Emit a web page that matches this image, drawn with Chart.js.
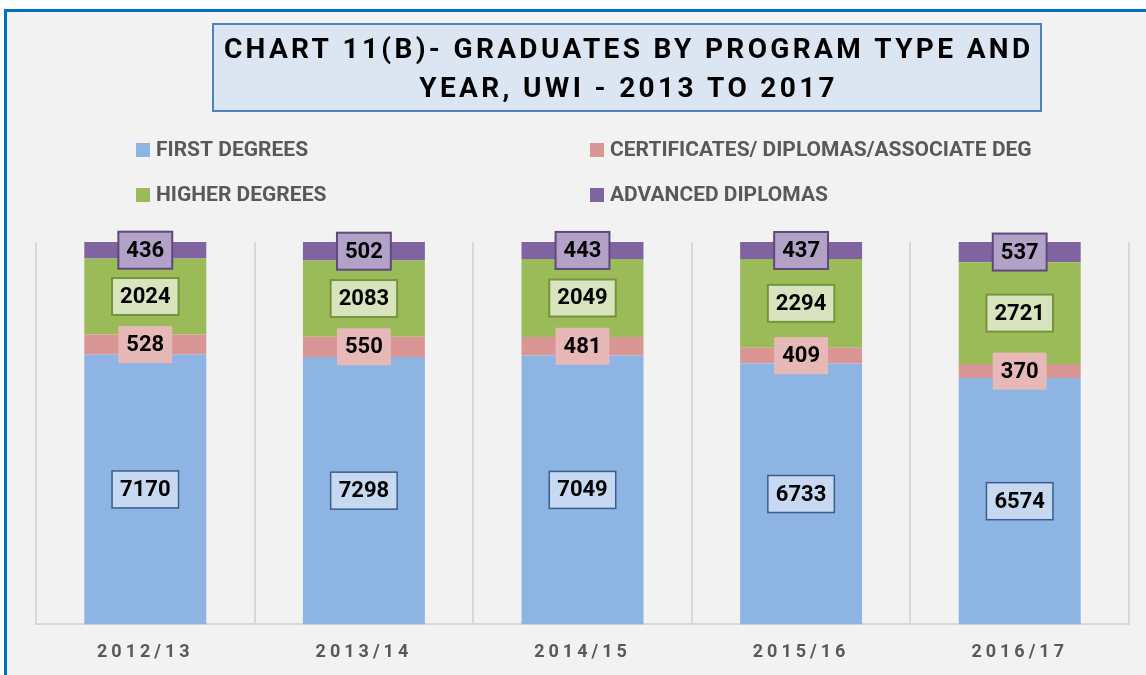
<!DOCTYPE html>
<html>
<head>
<meta charset="utf-8">
<script src="https://cdn.jsdelivr.net/npm/chart.js@4/dist/chart.umd.min.js"></script>
<style>
  html, body { margin: 0; padding: 0; background: #ffffff; overflow: hidden; }
  #frame {
    position: absolute; left: 4px; top: 9px; width: 1200px; height: 720px;
    background: #f2f2f2; border-left: 3px solid #0070c0; border-top: 3px solid #0070c0;
  }
  #chart { position: absolute; left: 0; top: 0; }
</style>
</head>
<body>
<div id="frame"></div>
<canvas id="chart" width="1146" height="675"></canvas>
<script>
// ---- data ----
const years = ["2012/13", "2013/14", "2014/15", "2015/16", "2016/17"];
const firstDegrees = [7170, 7298, 7049, 6733, 6574];
const certificates = [528, 550, 481, 409, 370];
const higherDegrees = [2024, 2083, 2049, 2294, 2721];
const advancedDiplomas = [436, 502, 443, 437, 537];
const titleLines = ["CHART 11(B)- GRADUATES BY PROGRAM TYPE AND", "YEAR, UWI - 2013 TO 2017"];

const FONT = "Roboto, 'Open Sans', sans-serif";

const totals = years.map((_, i) =>
  firstDegrees[i] + certificates[i] + higherDegrees[i] + advancedDiplomas[i]);
const pct = arr => arr.map((v, i) => v / totals[i] * 100);

const series = [
  { label: "FIRST DEGREES", raw: firstDegrees, color: "#8eb4e3",
    box: { fill: "#c6d9f1", stroke: "#3a5f8f", lw: 1.5 } },
  { label: "CERTIFICATES/ DIPLOMAS/ASSOCIATE DEG", raw: certificates, color: "#d99694",
    box: { fill: "#e6b9b8", stroke: null, lw: 0 } },
  { label: "HIGHER DEGREES", raw: higherDegrees, color: "#9bbb59",
    box: { fill: "#d7e4bd", stroke: "#77933c", lw: 2 } },
  { label: "ADVANCED DIPLOMAS", raw: advancedDiplomas, color: "#8064a2",
    box: { fill: "#b3a2c7", stroke: "#5f497a", lw: 2 } }
];

// ---- title box ----
const titlePlugin = {
  id: "titleBox",
  afterDraw(chart) {
    const ctx = chart.ctx;
    ctx.save();
    ctx.fillStyle = "#dce6f2";
    ctx.fillRect(213, 24, 828, 87);
    ctx.strokeStyle = "#4f81bd";
    ctx.lineWidth = 2;
    ctx.strokeRect(213, 24, 828, 87);
    ctx.font = "bold 28px " + FONT;
    ctx.fillStyle = "#000000";
    ctx.textAlign = "center";
    ctx.textBaseline = "middle";
    ctx.letterSpacing = "0px";
    const w = ctx.measureText(titleLines[0]).width;
    const sp = (806 - w) / (titleLines[0].length - 1);
    ctx.letterSpacing = sp.toFixed(2) + "px";
    ctx.fillText(titleLines[0], 627 + sp / 2, 51);
    ctx.fillText(titleLines[1], 627 + sp / 2, 90);
    ctx.restore();
  }
};

// ---- legend, two columns ----
const legendPlugin = {
  id: "gridLegend",
  afterDraw(chart) {
    const ctx = chart.ctx;
    const colX = [136, 590];
    const rowY = [150, 195];
    ctx.save();
    ctx.font = "bold 21px " + FONT;
    ctx.textBaseline = "middle";
    ctx.textAlign = "left";
    ctx.letterSpacing = "0px";
    chart.data.datasets.forEach((ds, i) => {
      const x = colX[i % 2], y = rowY[Math.floor(i / 2)];
      ctx.fillStyle = ds.backgroundColor;
      ctx.fillRect(x, y - 7, 14, 14);
      ctx.fillStyle = "#595959";
      ctx.fillText(ds.label, x + 20, y + 1);
    });
    ctx.restore();
  }
};

// ---- spaced tick labels ----
const spacingPlugin = {
  id: "tickSpacing",
  beforeDraw(chart) { chart.ctx.letterSpacing = "4px"; },
  beforeDatasetsDraw(chart) { chart.ctx.letterSpacing = "0px"; }
};

// ---- value boxes ----
const valuePlugin = {
  id: "valueBoxes",
  afterDatasetsDraw(chart) {
    const ctx = chart.ctx;
    ctx.save();
    ctx.letterSpacing = "0px";
    ctx.font = "bold 22px " + FONT;
    ctx.textAlign = "center";
    ctx.textBaseline = "middle";
    chart.data.datasets.forEach((ds, di) => {
      const meta = chart.getDatasetMeta(di);
      const s = series[di];
      meta.data.forEach((bar, i) => {
        const txt = String(s.raw[i]);
        const cx = bar.x;
        const cy = (bar.y + bar.base) / 2;
        const w = ctx.measureText(txt).width + 16;
        const h = 37;
        ctx.fillStyle = s.box.fill;
        ctx.fillRect(cx - w / 2, cy - h / 2, w, h);
        if (s.box.stroke) {
          ctx.strokeStyle = s.box.stroke;
          ctx.lineWidth = s.box.lw;
          ctx.strokeRect(cx - w / 2, cy - h / 2, w, h);
        }
        ctx.fillStyle = "#000000";
        ctx.fillText(txt, cx, cy + 1);
      });
    });
    ctx.restore();
  }
};

new Chart(document.getElementById("chart").getContext("2d"), {
  type: "bar",
  data: {
    labels: years,
    datasets: series.map(s => ({
      label: s.label,
      data: pct(s.raw),
      backgroundColor: s.color,
      borderWidth: 0,
      barPercentage: 1,
      categoryPercentage: 0.558
    }))
  },
  options: {
    responsive: false,
    animation: false,
    layout: { padding: { left: 36, right: 17, top: 242, bottom: -5 } },
    plugins: {
      legend: { display: false },
      tooltip: { enabled: false },
      title: { display: false }
    },
    scales: {
      x: {
        stacked: true,
        grid: { offset: true, color: "#d9d9d9", lineWidth: 2, drawTicks: false },
        border: { display: true, color: "#d9d9d9", width: 2 },
        ticks: {
          color: "#595959",
          padding: 17,
          font: { family: FONT, size: 18, weight: "bold" }
        }
      },
      y: {
        stacked: true,
        display: false,
        min: 0,
        max: 100
      }
    }
  },
  plugins: [spacingPlugin, valuePlugin, legendPlugin, titlePlugin]
});
</script>
</body>
</html>
